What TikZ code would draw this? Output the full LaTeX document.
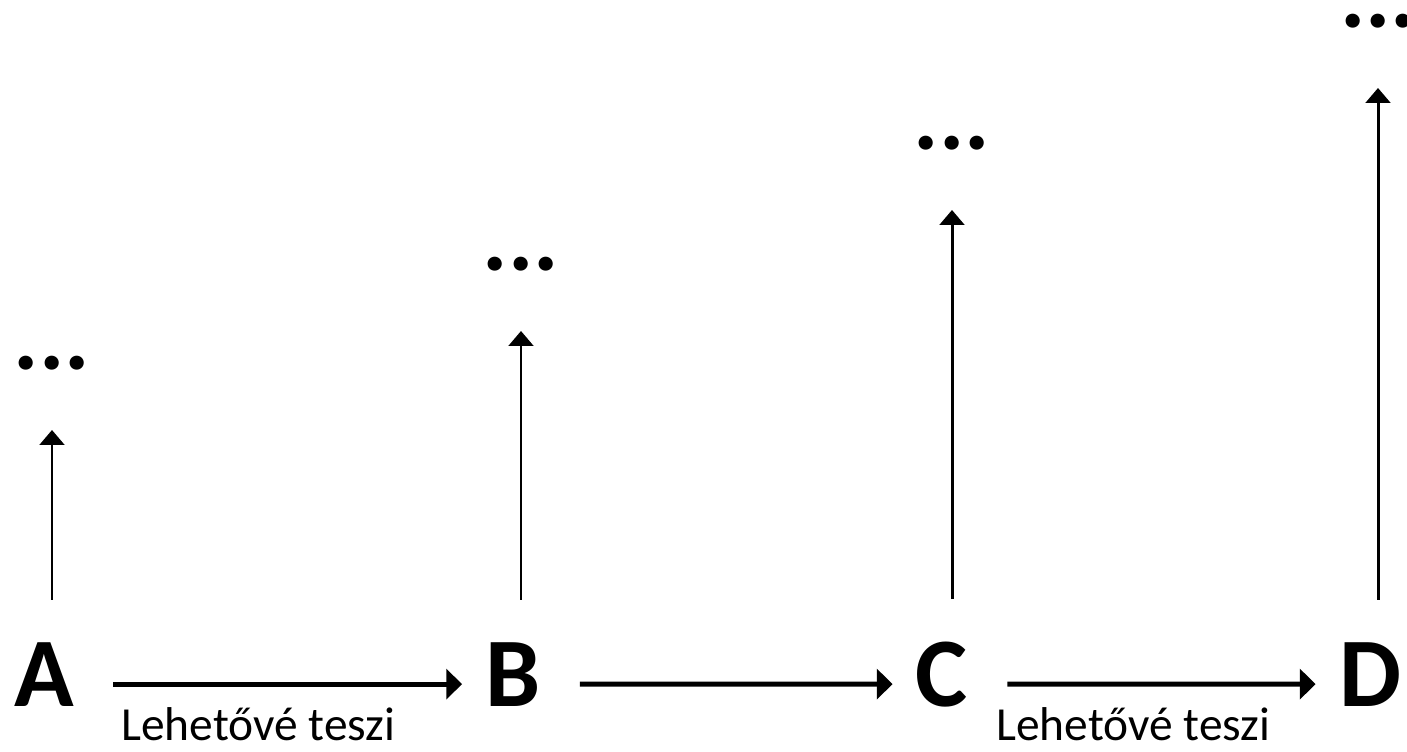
\documentclass[tikz,border=0pt]{standalone}
\usepackage{fontspec}
\setmainfont{Carlito}
\usepackage{tikz}
\usetikzlibrary{arrows.meta, calc}

\tikzset{
  letter/.style={inner sep=0pt, anchor=base, font=\bfseries\fontsize{56}{60}\selectfont},
  dots/.style={inner sep=0pt, anchor=base, font=\bfseries\fontsize{54}{58}\selectfont},
  lab/.style={inner sep=0pt, anchor=base west, font=\fontsize{27}{30}\selectfont},
  harr/.style={line width=2.8pt, -{Triangle[length=9pt, width=17pt]}, shorten <=0.78cm, shorten >=0.46cm},
  varr/.style={line width=1.7pt, -{Triangle[length=8.5pt, width=14pt]}, shorten <=0.84cm, shorten >=1.2cm}
}

\begin{document}
\begin{tikzpicture}[x=0.02cm, y=-0.02cm]
\useasboundingbox (0,0) rectangle (1407,751);
\path
(44,706) node[letter] (A) {A};
\path
(513,706) node[letter] (B) {B};
\path
(942,706) node[letter] (C) {C};
\path
(1370,706) node[letter] (D) {D};
\path
(52,369) node[dots] (dA) {...};
\path
(521,270) node[dots] (dB) {...};
\path
(952,149) node[dots] (dC) {...};
\path
(1378,27) node[dots] (dD) {...};
\path
(121,740) node[lab] (lab1) {Lehetővé teszi};
\path
(996,740) node[lab] (lab2) {Lehetővé teszi};
\draw[harr] ($(A.east)+(0,10)$) -- ($(B.west)+(0,10)$);
\draw[harr] ($(B.east)+(0,10)$) -- ($(C.west)+(0,10)$);
\draw[harr] ($(C.east)+(0,10)$) -- ($(D.west)+(0,10)$);
\foreach \n in {A,B,C,D} \draw[varr] (d\n |- \n.north) -- (d\n.south);
\end{tikzpicture}
\end{document}
